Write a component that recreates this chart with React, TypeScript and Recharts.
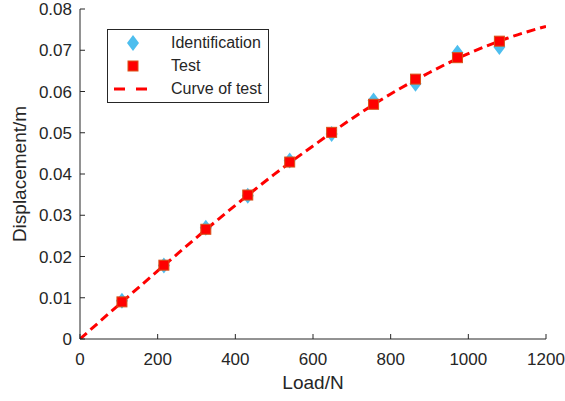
import {
  CartesianGrid,
  ComposedChart,
  Line,
  Scatter,
  XAxis,
  YAxis,
} from 'recharts';

const LOADS = [108, 216, 324, 432, 540, 648, 756, 864, 972, 1080];
const IDENT = [0.0093, 0.0178, 0.0270, 0.0347, 0.0433, 0.0497, 0.0578, 0.0619, 0.0694, 0.0708];
const TEST = [0.0090, 0.0179, 0.0266, 0.0349, 0.0429, 0.0501, 0.0569, 0.0630, 0.0682, 0.0722];

const CURVE_LOADS = [0, 100, 200, 300, 400, 500, 600, 700, 800, 900, 1000, 1100, 1200];
const CURVE_VALUES = [0, 0.0083, 0.0165, 0.0246, 0.0324, 0.0399, 0.0468, 0.0534, 0.0594, 0.0646, 0.0692, 0.0729, 0.0758];

const X_TICKS = [0, 200, 400, 600, 800, 1000, 1200];
const Y_TICKS = [0, 0.01, 0.02, 0.03, 0.04, 0.05, 0.06, 0.07, 0.08];

const FONT = '"Liberation Sans", Arial, sans-serif';
const INK = '#262626';
const BLUE = '#4dbeee';
const RED = '#ff0000';
const EDGE = '#d95319';

const identData = LOADS.map((x, i) => ({ x, ident: IDENT[i] }));
const testData = LOADS.map((x, i) => ({ x, test: TEST[i] }));
const curveData = CURVE_LOADS.map((x, i) => ({ x, curve: CURVE_VALUES[i] }));

function fmtY(v: number) {
  return v === 0 ? '0' : v.toFixed(2);
}

function BottomTick({ x, y, payload }: any) {
  return (
    <g>
      <line x1={x} x2={x} y1={y} y2={y - 5} stroke={INK} />
      <text x={x} y={y + 26} textAnchor="middle" fill={INK} fontSize={17} fontFamily={FONT}>
        {payload.value}
      </text>
    </g>
  );
}

function TopTick({ x, y }: any) {
  return <line x1={x} x2={x} y1={y} y2={y + 5} stroke={INK} />;
}

function LeftTick({ x, y, payload }: any) {
  return (
    <g>
      <line x1={x} x2={x + 5} y1={y} y2={y} stroke={INK} />
      <text x={x - 8} y={y + 6} textAnchor="end" fill={INK} fontSize={17} fontFamily={FONT}>
        {fmtY(payload.value)}
      </text>
    </g>
  );
}

function RightTick({ x, y }: any) {
  return <line x1={x} x2={x - 5} y1={y} y2={y} stroke={INK} />;
}

function Diamond({ cx, cy }: any) {
  if (cx == null || cy == null) return null;
  return <polygon points={`${cx},${cy - 8} ${cx + 6},${cy} ${cx},${cy + 8} ${cx - 6},${cy}`} fill={BLUE} />;
}

function Square({ cx, cy }: any) {
  if (cx == null || cy == null) return null;
  return <rect x={cx - 5} y={cy - 5} width={10} height={10} fill={RED} stroke={EDGE} strokeWidth={1} />;
}

function LegendBox() {
  const row = { display: 'flex', alignItems: 'center', height: 23 } as const;
  const icon = { width: 50, display: 'flex', justifyContent: 'center', marginRight: 13 } as const;
  return (
    <div
      style={{
        position: 'absolute',
        left: 107,
        top: 29,
        border: `1px solid ${INK}`,
        background: '#fff',
        width: 162,
        padding: '1px 0 2px 0',
        fontFamily: FONT,
        fontSize: 16,
        color: INK,
        boxSizing: 'border-box',
      }}
    >
      <div style={row}>
        <div style={icon}>
          <svg width={14} height={18}>
            <polygon points="7,1 13,9 7,17 1,9" fill={BLUE} />
          </svg>
        </div>
        Identification
      </div>
      <div style={row}>
        <div style={icon}>
          <svg width={12} height={12}>
            <rect x={1} y={1} width={10} height={10} fill={RED} stroke={EDGE} />
          </svg>
        </div>
        Test
      </div>
      <div style={row}>
        <div style={icon}>
          <svg width={40} height={6}>
            <line x1={1} x2={39} y1={3} y2={3} stroke={RED} strokeWidth={3} strokeDasharray="11 11" />
          </svg>
        </div>
        Curve of test
      </div>
    </div>
  );
}

export default function App() {
  return (
    <div style={{ position: 'absolute', left: 0, top: 0, width: 565, height: 401, background: '#fff' }}>
      <ComposedChart width={565} height={401} margin={{ top: 9, right: 19, bottom: 0, left: 0 }}>
        <CartesianGrid stroke="#dedede" horizontalValues={Y_TICKS} verticalValues={X_TICKS} />
        <XAxis
          xAxisId="b"
          dataKey="x"
          type="number"
          domain={[0, 1200]}
          ticks={X_TICKS}
          allowDataOverflow
          height={62}
          tickSize={0}
          tickMargin={0}
          tickLine={false}
          axisLine={{ stroke: INK }}
          tick={<BottomTick />}
          label={{ value: 'Load/N', position: 'insideBottom', offset: 12, fill: INK, fontSize: 19, fontFamily: FONT }}
        />
        <XAxis
          xAxisId="t"
          orientation="top"
          dataKey="x"
          type="number"
          domain={[0, 1200]}
          ticks={X_TICKS}
          height={0}
          tickSize={0}
          tickMargin={0}
          tickLine={false}
          axisLine={{ stroke: INK }}
          tick={<TopTick />}
        />
        <YAxis
          yAxisId="l"
          type="number"
          domain={[0, 0.08]}
          ticks={Y_TICKS}
          allowDataOverflow
          width={80}
          tickSize={0}
          tickMargin={0}
          tickLine={false}
          axisLine={{ stroke: INK }}
          tick={<LeftTick />}
          label={{
            value: 'Displacement/m',
            angle: -90,
            position: 'insideLeft',
            offset: 19,
            fill: INK,
            fontSize: 19,
            fontFamily: FONT,
            style: { textAnchor: 'middle' },
          }}
        />
        <YAxis
          yAxisId="r"
          orientation="right"
          type="number"
          domain={[0, 0.08]}
          ticks={Y_TICKS}
          width={0}
          tickSize={0}
          tickMargin={0}
          tickLine={false}
          axisLine={{ stroke: INK }}
          tick={<RightTick />}
        />
        <Scatter
          xAxisId="b"
          yAxisId="l"
          data={identData}
          dataKey="ident"
          shape={<Diamond />}
          isAnimationActive={false}
        />
        <Scatter
          xAxisId="b"
          yAxisId="l"
          data={testData}
          dataKey="test"
          shape={<Square />}
          isAnimationActive={false}
        />
        <Line
          xAxisId="b"
          yAxisId="l"
          data={curveData}
          dataKey="curve"
          type="monotone"
          stroke={RED}
          strokeWidth={3}
          strokeDasharray="9 5"
          dot={false}
          activeDot={false}
          isAnimationActive={false}
        />
      </ComposedChart>
      <LegendBox />
    </div>
  );
}
